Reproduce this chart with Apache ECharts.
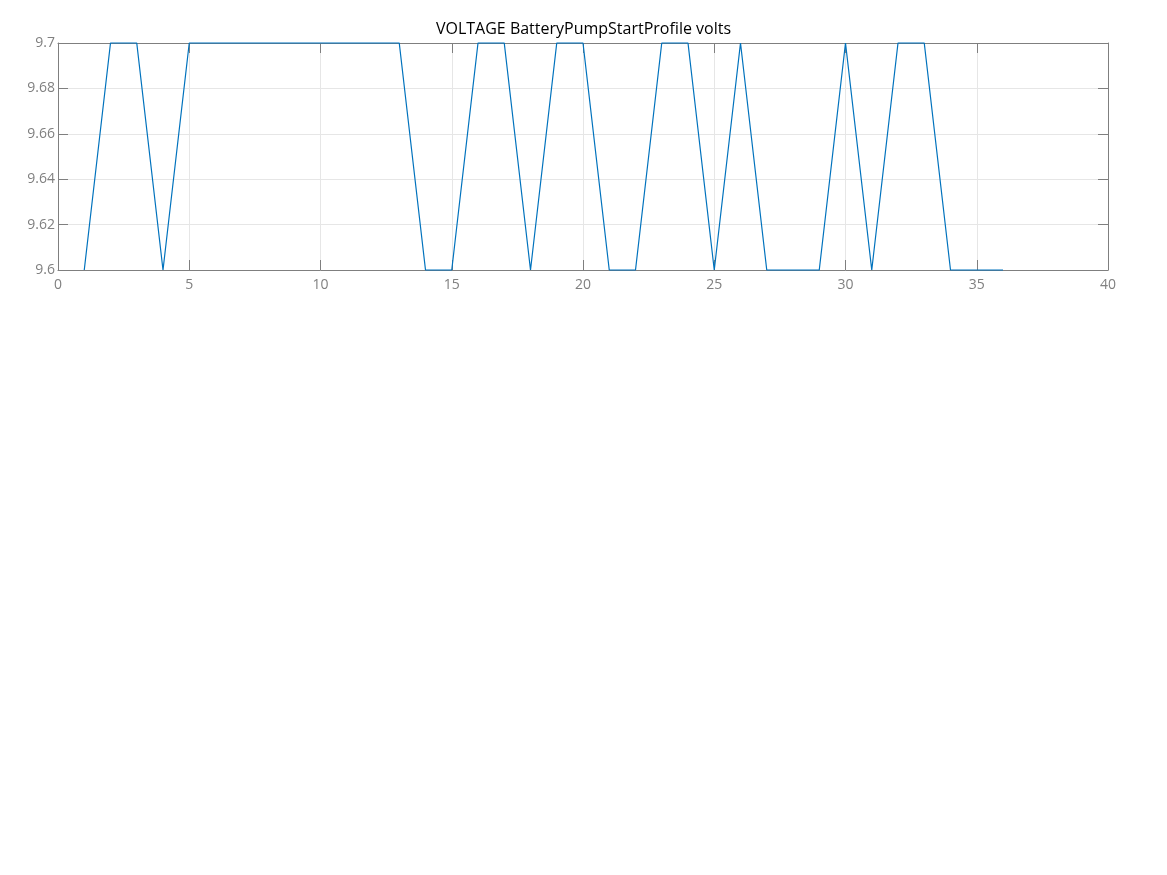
<!DOCTYPE html>
<html>
<head>
<meta charset="utf-8">
<script src="https://cdn.jsdelivr.net/npm/echarts@6/dist/echarts.min.js"></script>
<style>html,body{margin:0;padding:0;background:#fff;}#c{width:1167px;height:875px;}</style>
</head>
<body>
<div id="c"></div>
<script>
var titleText = 'VOLTAGE BatteryPumpStartProfile volts';
var xValues = [1,2,3,4,5,6,7,8,9,10,11,12,13,14,15,16,17,18,19,20,21,22,23,24,25,26,27,28,29,30,31,32,33,34,35,36];
var voltValues = [9.6,9.7,9.7,9.6,9.7,9.7,9.7,9.7,9.7,9.7,9.7,9.7,9.7,9.6,9.6,9.7,9.7,9.6,9.7,9.7,9.6,9.6,9.7,9.7,9.6,9.7,9.6,9.6,9.6,9.7,9.6,9.7,9.7,9.6,9.6,9.6];

var axisColor = '#7f7f7f';
var labelColor = '#808080';
var fontFam = '"Open Sans", "Noto Sans", sans-serif';

var chart = echarts.init(document.getElementById('c'), null, {renderer: 'canvas'});
chart.setOption({
  animation: false,
  backgroundColor: '#ffffff',
  title: {
    text: titleText, left: 'center', top: 16,
    textStyle: {fontFamily: fontFam, fontSize: 16, fontWeight: 'normal', color: '#000'}
  },
  grid: {left: 58, right: 59, top: 43, bottom: 605, containLabel: false},
  xAxis: [{
    type: 'value', min: 0, max: 40, interval: 5, position: 'bottom',
    axisLine: {show: true, lineStyle: {color: axisColor, width: 1}},
    axisTick: {show: true, inside: true, length: 10, lineStyle: {color: axisColor}},
    axisLabel: {color: labelColor, fontFamily: fontFam, fontSize: 14, margin: 8},
    splitLine: {show: true, lineStyle: {color: '#e6e6e6', width: 1}}
  }, {
    type: 'value', min: 0, max: 40, interval: 5, position: 'top',
    axisLine: {show: true, onZero: false, lineStyle: {color: axisColor, width: 1}},
    axisTick: {show: true, inside: true, length: 10, lineStyle: {color: axisColor}},
    axisLabel: {show: false}, splitLine: {show: false}
  }],
  yAxis: [{
    type: 'value', min: 9.6, max: 9.7, interval: 0.02, position: 'left',
    axisLine: {show: true, lineStyle: {color: axisColor, width: 1}},
    axisTick: {show: true, inside: true, length: 10, lineStyle: {color: axisColor}},
    axisLabel: {color: labelColor, fontFamily: fontFam, fontSize: 14, margin: 3,
      formatter: function(v){ return parseFloat(v.toFixed(2)).toString(); }},
    splitLine: {show: true, lineStyle: {color: '#e6e6e6', width: 1}}
  }, {
    type: 'value', min: 9.6, max: 9.7, interval: 0.02, position: 'right',
    axisLine: {show: true, onZero: false, lineStyle: {color: axisColor, width: 1}},
    axisTick: {show: true, inside: true, length: 10, lineStyle: {color: axisColor}},
    axisLabel: {show: false}, splitLine: {show: false}
  }],
  series: [{
    type: 'line', xAxisIndex: 0, yAxisIndex: 0,
    data: xValues.map(function(x, i){ return [x, voltValues[i]]; }),
    showSymbol: false, symbol: 'none',
    lineStyle: {color: '#0072BD', width: 1.2},
    clip: false
  }]
});
</script>
</body>
</html>
